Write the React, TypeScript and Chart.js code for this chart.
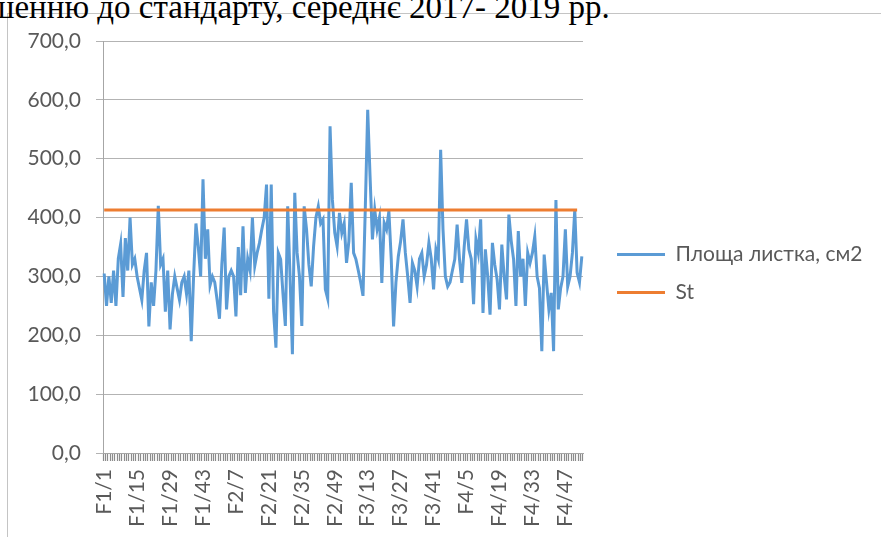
import React, { useEffect, useRef } from 'react';
import { Chart, registerables } from 'chart.js';

Chart.register(...registerables);

// ---- data ----
const groupNames = ['F1', 'F2', 'F3', 'F4'];
const groupSizes = [50, 50, 50, 54];
const categories: string[] = [];
groupNames.forEach((g, gi) => {
  for (let i = 1; i <= groupSizes[gi]; i++) categories.push(`${g}/${i}`);
});

const leafArea = [
  305, 250, 300, 255, 310, 250, 330, 355, 265, 365,
  310, 400, 320, 330, 300, 280, 260, 310, 340, 215,
  290, 250, 310, 420, 320, 330, 240, 310, 210, 270,
  300, 280, 260, 290, 300, 270, 310, 190, 300, 390,
  350, 300, 465, 330, 380, 285, 300, 290, 260, 228,
  320, 383, 244, 300, 310, 300, 232, 350, 268, 385,
  272, 330, 310, 400, 318, 340, 357, 380, 400, 456,
  262, 456, 240, 179, 340, 329, 270, 216, 419, 300,
  168, 442, 340, 300, 216, 419, 380, 320, 283, 351,
  400, 419, 390, 397, 278, 262, 555, 430, 374, 351,
  408, 374, 390, 323, 360, 459, 340, 329, 310, 290,
  267, 420, 583, 470, 363, 413, 380, 400, 289, 391,
  380, 411, 330, 215, 290, 334, 360, 397, 340, 300,
  255, 323, 310, 283, 330, 340, 300, 320, 357, 330,
  278, 346, 330, 515, 380, 300, 283, 290, 310, 329,
  388, 330, 289, 350, 397, 346, 330, 253, 363, 340,
  397, 238, 346, 300, 235, 357, 320, 295, 244, 354,
  300, 261, 405, 360, 329, 250, 377, 300, 330, 250,
  340, 323, 340, 368, 300, 280, 173, 337, 290, 244,
  272, 173, 430, 244, 280, 300, 380, 283, 300, 340,
  413, 306, 290, 334,
];

const standardValue = 413;
const standardCount = 202;
const standard = Array.from({ length: standardCount }, () => standardValue);

const seriesNames = ['Площа листка, см2', 'St'];
const yMin = 0;
const yMax = 700;
const yStep = 100;
const labelStep = 14;

const titleText = 'шенню до стандарту, середнє 2017- 2019 рр.';

// ---- styles / layout ----
const W = 881;
const H = 537;
const textColor = '#595959';
const gridColor = '#b3b3b3';
const axisColor = '#a6a6a6';
const fontFamily = 'Lato';
const fontSize = 21;
const legendX = 617;
const legendY = 244; // top of first item row

const legendPlacer = {
  id: 'legendPlacer',
  afterLayout(chart: any) {
    const lg = chart.legend;
    if (!lg) return;
    const pad = lg.options.labels.padding;
    lg.left = legendX - pad;
    lg.right = lg.left + 400;
    lg.top = legendY - pad;
    lg.bottom = lg.top + 300;
    lg.width = 400;
    lg.height = 300;
  },
};

export default function App() {
  const canvasRef = useRef<HTMLCanvasElement | null>(null);

  useEffect(() => {
    const canvas = canvasRef.current;
    if (!canvas) return;
    const chart = new Chart(canvas, {
      type: 'line',
      data: {
        labels: categories,
        datasets: [
          {
            label: seriesNames[0],
            data: leafArea,
            borderColor: '#5B9BD5',
            backgroundColor: '#5B9BD5',
            borderWidth: 3,
            pointRadius: 0,
            tension: 0,
            order: 1,
          },
          {
            label: seriesNames[1],
            data: standard,
            borderColor: '#ED7D31',
            backgroundColor: '#ED7D31',
            borderWidth: 3,
            pointRadius: 0,
            tension: 0,
            order: 0,
          },
        ],
      },
      options: {
        responsive: false,
        animation: false,
        devicePixelRatio: 1,
        layout: { padding: { left: 0, top: 41, right: W - 583, bottom: 0 } },
        plugins: {
          tooltip: { enabled: false },
          legend: {
            position: 'chartArea' as any,
            align: 'start',
            labels: {
              usePointStyle: true,
              pointStyle: 'line',
              pointStyleWidth: 48,
              padding: 17,
              color: textColor,
              font: { family: fontFamily, size: fontSize },
              sort: (a: any, b: any) => a.datasetIndex - b.datasetIndex,
            },
          },
        },
        scales: {
          x: {
            type: 'category',
            offset: true,
            afterFit: (s: any) => {
              s.height = H - 453;
            },
            grid: {
              display: true,
              drawOnChartArea: false,
              drawTicks: true,
              tickLength: 8,
              color: '#8c8c8c',
              tickColor: '#8c8c8c',
              tickWidth: 1.2,
              offset: true,
            },
            border: { display: true, color: axisColor },
            ticks: {
              autoSkip: false,
              maxRotation: 90,
              minRotation: 90,
              padding: 8,
              color: textColor,
              font: { family: fontFamily, size: fontSize },
              callback: function (this: any, value: any, index: number) {
                return index % labelStep === 0 ? categories[index] : '';
              },
            },
          },
          y: {
            min: yMin,
            max: yMax,
            afterFit: (s: any) => {
              s.width = 103;
            },
            grid: { color: gridColor, tickLength: 7, drawTicks: true },
            border: { display: true, color: axisColor },
            ticks: {
              stepSize: yStep,
              padding: 15,
              color: textColor,
              font: { family: fontFamily, size: fontSize },
              callback: (v: any) => Number(v).toFixed(1).replace('.', ','),
            },
          },
        },
      },
      plugins: [legendPlacer],
    });
    return () => chart.destroy();
  }, []);

  return (
    <div
      style={{
        position: 'fixed',
        left: 0,
        top: 0,
        width: W,
        height: H,
        overflow: 'hidden',
        background: '#ffffff',
      }}
    >
      <div
        style={{
          position: 'absolute',
          left: 7,
          top: 13,
          width: W + 20,
          height: H + 20,
          borderTop: '1px solid #c4c4c4',
          borderLeft: '1px solid #c4c4c4',
        }}
      />
      <div
        style={{
          position: 'absolute',
          left: -11,
          top: -9,
          fontFamily: '"Liberation Serif", serif',
          fontSize: 33,
          lineHeight: '33px',
          color: '#000',
          whiteSpace: 'nowrap',
        }}
      >
        {titleText}
      </div>
      <canvas
        ref={canvasRef}
        width={W}
        height={H}
        style={{ position: 'absolute', left: 0, top: 0, width: W, height: H }}
      />
    </div>
  );
}
